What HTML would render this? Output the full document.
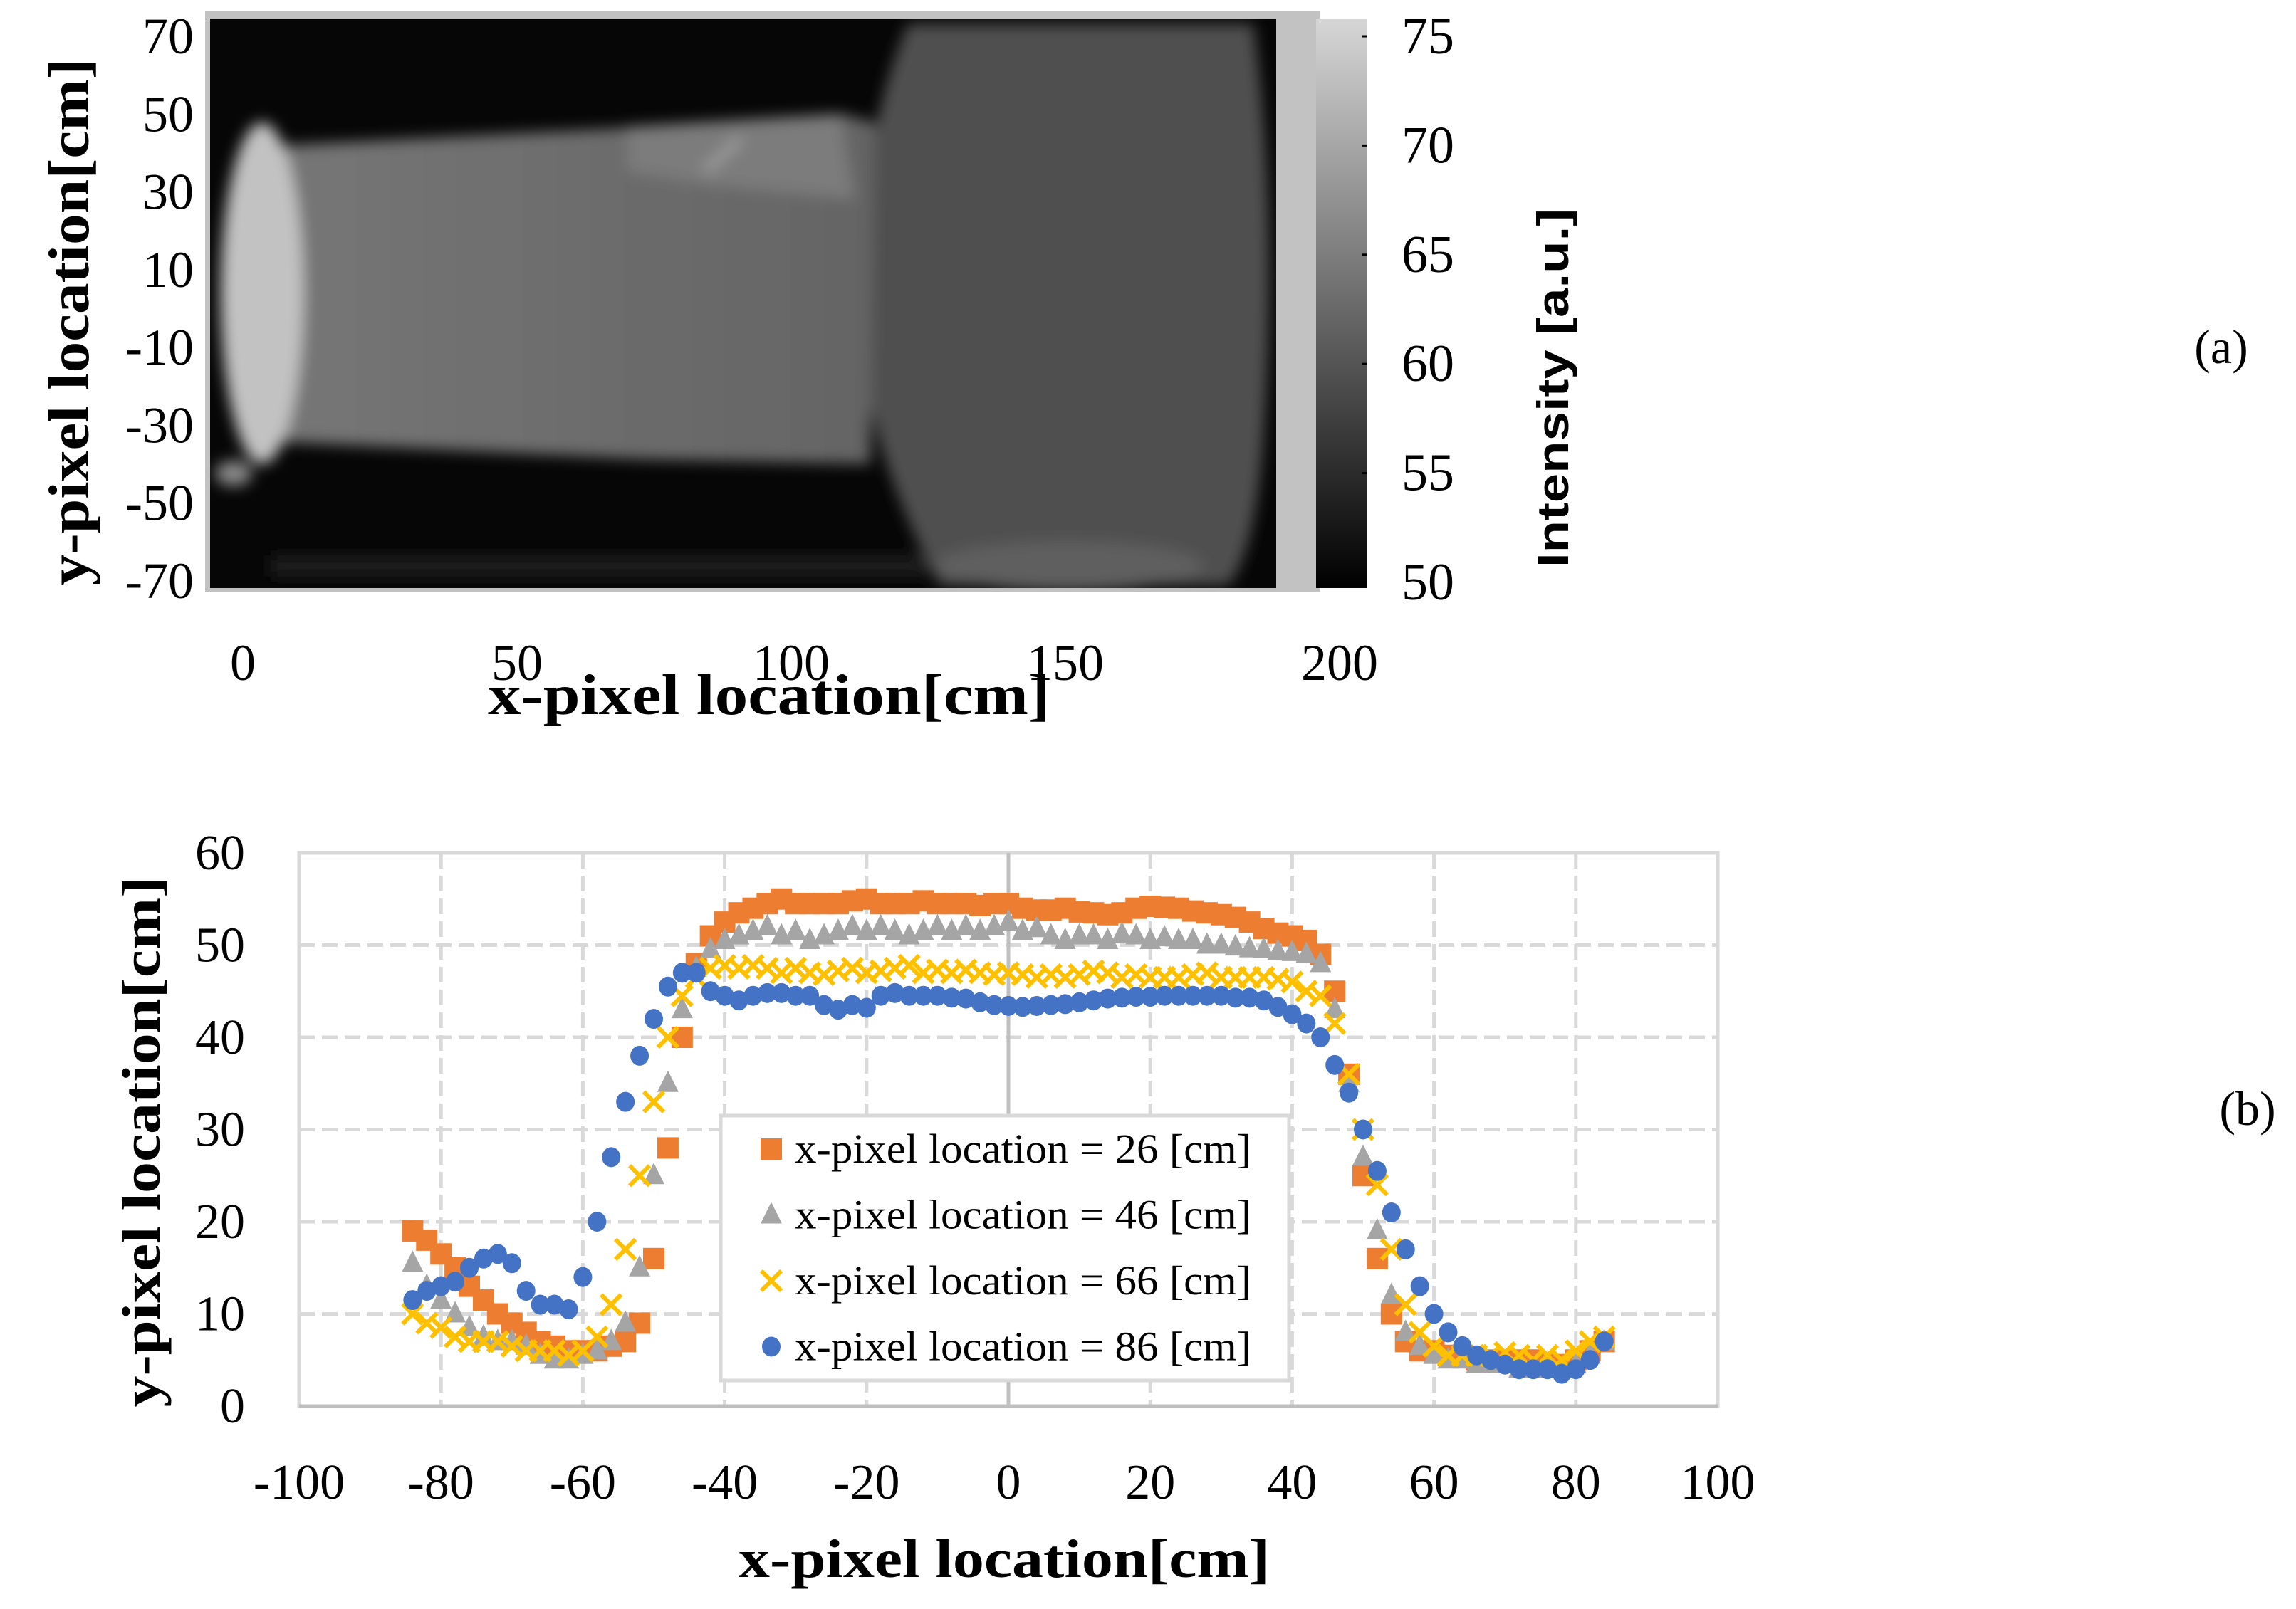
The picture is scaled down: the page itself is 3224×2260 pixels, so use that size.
<!DOCTYPE html>
<html><head><meta charset="utf-8"><style>
html,body{margin:0;padding:0;background:#fff;}
svg{display:block;}
text{font-family:"Liberation Serif",serif;fill:#000;}
</style></head><body>
<svg id="fig" width="3224" height="2260" viewBox="0 0 3224 2260" xmlns="http://www.w3.org/2000/svg">
<defs>
<filter id="blur" x="-10%" y="-10%" width="120%" height="120%"><feGaussianBlur stdDeviation="10"/></filter>
<linearGradient id="cbar" x1="0" y1="1" x2="0" y2="0"><stop offset="0" stop-color="#000"/><stop offset="1" stop-color="#d6d6d6"/></linearGradient>
<linearGradient id="body" x1="0" y1="0" x2="1" y2="0"><stop offset="0" stop-color="#767676"/><stop offset="1" stop-color="#646464"/></linearGradient>
<clipPath id="hmclip"><rect x="295" y="26" width="1497" height="800"/></clipPath>
</defs>
<g>
<rect x="288" y="16" width="1565" height="816" fill="#c2c2c2"/>
<rect x="295" y="26" width="1497" height="800" fill="#060606"/>
<g clip-path="url(#hmclip)" filter="url(#blur)">
<path d="M1275 34 L1760 34 Q1795 300 1775 600 Q1765 770 1725 822 L1320 822 Q1210 620 1205 430 Q1205 200 1275 34 Z" fill="#505050"/>
<ellipse cx="1500" cy="795" rx="190" ry="35" fill="#5e5e5e"/>
<path d="M383 205 L870 180 L1180 160 L1228 172 L1222 652 L900 645 L383 620 Z" fill="url(#body)"/>
<path d="M880 178 L1180 160 L1200 280 L1000 260 L880 240 Z" fill="#7c7c7c"/>
<path d="M990 240 L1040 195" stroke="#9a9a9a" stroke-width="14"/>
<rect x="380" y="780" width="920" height="30" fill="#1a1a1a"/>
<ellipse cx="368" cy="412" rx="58" ry="240" fill="#c2c2c2"/>
<ellipse cx="328" cy="665" rx="26" ry="18" fill="#888"/>
</g>
<rect x="1848" y="26" width="72" height="800" fill="url(#cbar)"/>
<g id="topax"></g>
<text x="1080" y="1003" font-size="80" font-weight="bold" text-anchor="middle" textLength="790" lengthAdjust="spacingAndGlyphs">x-pixel location[cm]</text>
<text transform="translate(124,452) rotate(-90)" font-size="80" font-weight="bold" text-anchor="middle" textLength="740" lengthAdjust="spacingAndGlyphs">y-pixel location[cm]</text>
<text transform="translate(2202,545) rotate(-90)" font-size="62" font-weight="bold" text-anchor="middle" textLength="504" lengthAdjust="spacingAndGlyphs" style="font-family:'Liberation Sans',sans-serif">Intensity [a.u.]</text>
<text x="3119" y="510" font-size="68" text-anchor="middle">(a)</text>
</g>
<g id="chartb"></g>
<text x="3156" y="1580" font-size="68" text-anchor="middle">(b)</text>
</svg>
<script>
const NS="http://www.w3.org/2000/svg";
const mapYTicks=[70,50,30,10,-10,-30,-50,-70];
const mapXTicks=[0,50,100,150,200];
const cbarTicks=[75,70,65,60,55,50];
const xTicks=[-100,-80,-60,-40,-20,0,20,40,60,80,100];
const yTicks=[0,10,20,30,40,50,60];
const xs=[-84,-82,-80,-78,-76,-74,-72,-70,-68,-66,-64,-62,-60,-58,-56,-54,-52,-50,-48,-46,-44,-42,-40,-38,-36,-34,-32,-30,-28,-26,-24,-22,-20,-18,-16,-14,-12,-10,-8,-6,-4,-2,0,2,4,6,8,10,12,14,16,18,20,22,24,26,28,30,32,34,36,38,40,42,44,46,48,50,52,54,56,58,60,62,64,66,68,70,72,74,76,78,80,82,84];
const s26=[19,18,16.5,15,13,11.5,10,9,8,7,6.5,6,6,6,6.5,7,9,16,28,40,48,51,52.5,53.5,54,54.5,55,54.5,54.5,54.5,54.5,54.8,55,54.5,54.5,54.5,54.8,54.5,54.5,54.5,54.3,54.5,54.5,54,53.8,53.8,54,53.6,53.5,53.3,53.5,54,54.2,54.1,54,53.7,53.5,53.3,53,52.5,51.8,51.3,51,50.5,49,45,36,25,16,10,7,6,6,5.5,5.5,5,5,5,5,5,4.5,4.5,5,6,7];
const s46=[15.5,13,11.5,10,8.5,7.5,7,7,6.5,5.5,5,5,5.5,6,7,9,15,25,35,43,47.5,49.5,50.5,51,51.5,52,51,51.5,50.5,51,51.5,52,51.5,52,51.5,51,51.5,52,51.5,52,51.5,52,52.5,51.5,51.8,51,50.5,51,51,50.5,51.2,51,50.5,50.8,50.5,50.5,50,50,49.8,49.6,49.5,49.3,49.2,49,48,43,35,27,19,12,8,6.5,5.5,5,5,4.5,4.5,4.5,4,4,4.5,4,4.5,5.5,7];
const s66=[10,9,8.5,7.5,7,7,7,6.5,6,6,6,5.5,6,7.5,11,17,25,33,40,44.5,46.5,47.5,47.8,47.5,47.8,47.5,47,47.5,47,46.8,47.2,47.5,47,47.2,47.5,47.8,47,47.3,47,47.3,47,46.8,47,46.8,46.5,46.8,46.5,46.8,47.2,47,46.5,46.8,46.5,46.5,46.5,46.8,47,46.5,46.5,46.5,46.5,46.3,46,45,44.5,41.5,36,30,24,17,11,8,6.5,5.5,5.5,5.5,5.5,5.8,5.5,5,5.5,5,6,7,7.5];
const s86=[11.5,12.5,13,13.5,15,16,16.5,15.5,12.5,11,11,10.5,14,20,27,33,38,42,45.5,47,47,45,44.5,44,44.5,44.8,44.8,44.5,44.5,43.5,43,43.5,43.2,44.5,44.8,44.5,44.5,44.5,44.3,44.2,43.8,43.5,43.4,43.3,43.4,43.5,43.6,43.8,44,44.2,44.3,44.4,44.4,44.5,44.5,44.5,44.5,44.5,44.3,44.3,44,43.3,42.5,41.5,40,37,34,30,25.5,21,17,13,10,8,6.5,5.5,5,4.5,4,4,4,3.5,4,5,7];
const legendLabels=["x-pixel location = 26 [cm]","x-pixel location = 46 [cm]","x-pixel location = 66 [cm]","x-pixel location = 86 [cm]"];

function mk(tag,attrs,parent){const e=document.createElementNS(NS,tag);for(const k in attrs)e.setAttribute(k,attrs[k]);parent.appendChild(e);return e;}

const topax=document.getElementById('topax');
const my=v=>51+(70-v)/140*765;
const mx=v=>341+v/200*1540;
const cy=v=>51+(75-v)/25*767;
mapYTicks.forEach(v=>{const t=mk('text',{x:272,y:my(v)+24,'font-size':72,'text-anchor':'end'},topax);t.textContent=v;

});
mapXTicks.forEach(v=>{const t=mk('text',{x:mx(v),y:955,'font-size':72,'text-anchor':'middle'},topax);t.textContent=v;

});
cbarTicks.forEach(v=>{const t=mk('text',{x:1968,y:cy(v)+24,'font-size':74},topax);t.textContent=v;


const l=mk('line',{x1:1912,x2:1920,y1:cy(v),y2:cy(v),stroke:'#000','stroke-width':3},topax);

});

const g=document.getElementById('chartb');
const X0=420,X1=2412,Y0=1975,Y1=1198;
const sx=v=>X0+(v+100)/200*(X1-X0);
const sy=v=>Y0-v/60*(Y0-Y1);
mk('rect',{x:X0,y:Y1,width:X1-X0,height:Y0-Y1,fill:'#fff',stroke:'#d9d9d9','stroke-width':5},g);
yTicks.forEach(v=>{if(v>0&&v<60){const l=mk('line',{x1:X0,x2:X1,y1:sy(v),y2:sy(v),stroke:'#d9d9d9','stroke-width':5,'stroke-dasharray':'22,10'},g);

}
const t=mk('text',{x:344,y:sy(v)+23,'font-size':70,'text-anchor':'end'},g);t.textContent=v;

});
xTicks.forEach(v=>{if(v>-100&&v<100){const l=mk('line',{x1:sx(v),x2:sx(v),y1:Y1,y2:Y0,stroke:v===0?'#bfbfbf':'#d9d9d9','stroke-width':5,'stroke-dasharray':v===0?'none':'22,10'},g);

}
const t=mk('text',{x:sx(v),y:2105,'font-size':70,'text-anchor':'middle'},g);t.textContent=v;

});
const ax=mk('line',{x1:X0,x2:X1,y1:Y0,y2:Y0,stroke:'#bfbfbf','stroke-width':5},g);



function marker(type,x,y,parent){
  let e;
  if(type===0) e=mk('rect',{x:x-15,y:y-15,width:30,height:30,fill:'#ed7d31'},parent);
  else if(type===1) e=mk('polygon',{points:`${x},${y-18} ${x+15},${y+12} ${x-15},${y+12}`,fill:'#a5a5a5'},parent);
  else if(type===2) e=mk('path',{d:`M${x-14} ${y-14}L${x+14} ${y+14}M${x+14} ${y-14}L${x-14} ${y+14}`,stroke:'#ffc000','stroke-width':6,fill:'none'},parent);
  else e=mk('ellipse',{cx:x,cy:y,rx:13,ry:14,fill:'#4472c4'},parent);
  return e;
}
const series=[s26,s46,s66,s86];
const sNames=['series-x26','series-x46','series-x66','series-x86'];
series.forEach((arr,si)=>{
  const sg=mk('g',{},g);
  
  
  arr.forEach((v,i)=>{const m=marker(si,sx(xs[i]),sy(v),sg);
  
  });
});
const lg=mk('g',{},g);


mk('rect',{x:1012,y:1567,width:798,height:372,fill:'#fff',stroke:'#d9d9d9','stroke-width':5},lg);
legendLabels.forEach((s,i)=>{const yy=1614+i*92.5;
  const m=marker(i,1083,yy,lg);
  
  
  const t=mk('text',{x:1116,y:yy+19,'font-size':58,textLength:641,lengthAdjust:'spacingAndGlyphs'},lg);t.textContent=s;
  
  
});
const xt=mk('text',{x:1410,y:2215,'font-size':76,'font-weight':'bold','text-anchor':'middle',textLength:746,lengthAdjust:'spacingAndGlyphs'},g);xt.textContent='x-pixel location[cm]';


const yt=mk('text',{transform:'translate(224,1604) rotate(-90)','font-size':76,'font-weight':'bold','text-anchor':'middle',textLength:745,lengthAdjust:'spacingAndGlyphs'},g);yt.textContent='y-pixel location[cm]';


</script>
</body></html>
